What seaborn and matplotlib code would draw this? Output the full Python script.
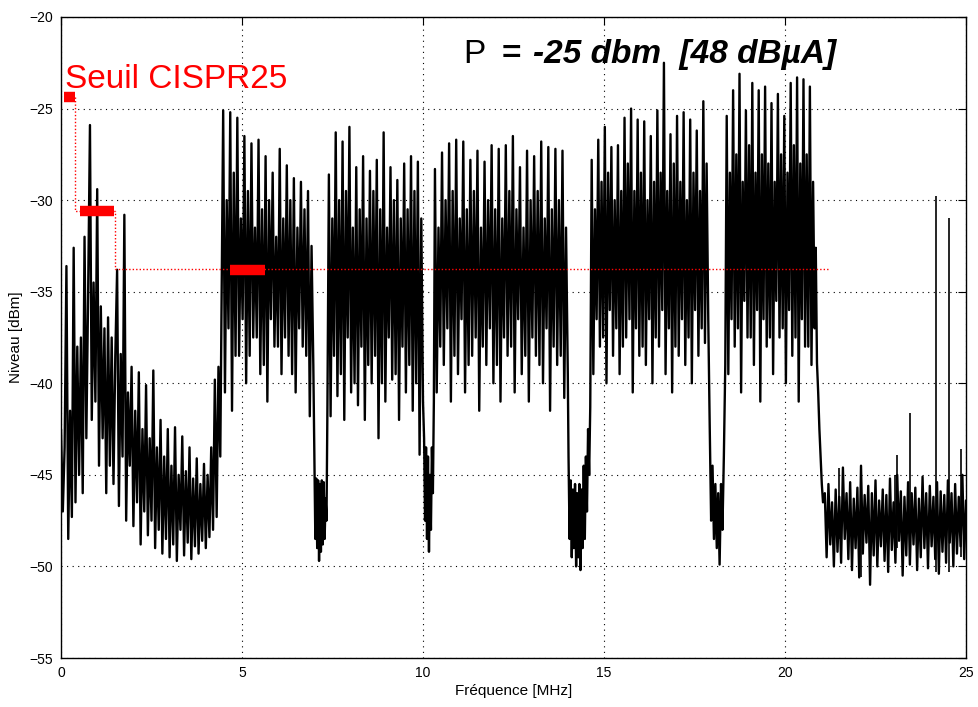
import numpy as np
import pandas as pd
import matplotlib
matplotlib.use("Agg")
import matplotlib.pyplot as plt
import seaborn as sns

# --- spectrum (levels in dBm) ---
# 0 - 4.4 MHz, low frequency part, alternating highs / lows
low_band = [-42.5, -47.0, -43.5, -33.6, -48.5, -41.5, -47.3, -32.6, -46.5, -38.0,
            -45.0, -37.5, -46.0, -32.0, -43.0, -35.0, -25.9, -42.0, -34.5, -41.0,
            -29.4, -44.5, -35.8, -43.0, -37.0, -46.0, -36.4, -44.5, -37.5, -45.5,
            -38.5, -33.8, -46.7, -38.4, -44.0, -30.8, -47.5, -40.5, -44.5, -39.1,
            -47.8, -41.5, -46.5, -39.4, -48.8, -42.5, -47.0, -40.1, -48.3, -43.0,
            -47.5, -39.3, -49.0, -43.5, -48.0, -42.0, -49.3, -44.0, -48.5, -42.5,
            -49.5, -44.5, -48.8, -42.4, -49.7, -45.0, -48.0, -42.9, -49.4, -44.8,
            -48.7, -43.5, -49.6, -45.2, -48.9, -44.1, -49.3, -45.5, -48.6, -44.4,
            -49.0, -45.0, -48.4, -43.5, -48.0, -39.8, -47.3, -39.1, -44.0]

# comb bands: main peak, low, secondary peak, low per cycle
peaks1 = [-25.1, -25.2, -25.5, -26.5, -26.9, -26.7, -27.6, -28.5, -27.2, -28.1, -28.8, -29.0, -29.5]
mids1 = [-30.0, -28.5, -31.0, -29.5, -31.5, -30.5, -30.0, -32.0, -31.0, -30.0, -31.5, -30.5, -32.5]
lowa1 = [-40.5, -41.5, -38.5, -40.0, -37.5, -39.5, -41.0, -38.0, -39.5, -38.5, -40.5, -38.0, -41.8]
lowb1 = [-37.0, -38.5, -36.5, -38.5, -37.5, -39.0, -36.5, -38.0, -37.5, -39.5, -37.0, -38.5, -39.0]

peaks2 = [-28.6, -26.3, -26.8, -26.0, -28.2, -27.6, -28.4, -27.8, -26.3, -28.2, -28.9, -28.0, -27.6, -27.9]
mids2 = [-31.0, -30.0, -29.5, -31.5, -30.5, -31.0, -29.5, -30.5, -31.5, -30.0, -31.0, -30.5, -29.5, -31.0]
lowa2 = [-41.8, -40.7, -42.0, -40.5, -41.2, -42.0, -40.0, -43.0, -41.0, -39.8, -42.0, -40.5, -41.5, -43.9]
lowb2 = [-38.5, -39.5, -37.5, -40.0, -38.0, -39.0, -38.5, -40.0, -37.5, -39.5, -38.0, -39.0, -40.0, -41.0]

peaks3 = [-28.3, -27.4, -26.9, -26.7, -26.8, -27.8, -27.3, -27.9, -27.0, -27.2,
          -27.0, -26.5, -28.2, -27.3, -27.6, -26.8, -27.1, -27.2, -27.3]
mids3 = [-31.5, -30.0, -29.5, -31.0, -30.5, -29.5, -31.5, -30.0, -30.5, -31.0,
         -29.5, -30.5, -31.5, -30.0, -29.5, -31.0, -30.5, -30.0, -31.5]
lowa3 = [-40.5, -39.0, -41.0, -39.5, -40.5, -38.5, -41.5, -39.0, -40.0, -41.0,
         -38.5, -40.5, -39.5, -41.0, -38.5, -40.0, -41.5, -39.0, -40.8]
lowb3 = [-38.0, -37.0, -38.5, -36.5, -39.0, -37.5, -38.0, -37.0, -39.0, -37.5,
         -38.0, -36.5, -38.5, -37.5, -39.0, -37.0, -38.0, -38.5, -39.5]

peaks4 = [-27.8, -26.7, -26.0, -27.1, -27.0, -25.5, -25.0, -25.6, -25.7, -26.5,
          -25.1, -22.5, -26.4, -25.4, -25.2, -25.6, -26.2, -24.6]
mids4 = [-30.5, -29.0, -28.5, -30.0, -29.5, -28.0, -29.5, -28.5, -30.0, -29.0,
         -28.5, -29.5, -28.0, -29.0, -30.0, -28.5, -29.5, -28.0]
lowa4 = [-39.5, -38.0, -40.0, -38.5, -39.5, -37.5, -40.5, -38.5, -39.0, -40.0,
         -38.0, -39.5, -40.5, -38.5, -39.0, -40.0, -38.5, -37.8]
lowb4 = [-36.5, -37.5, -36.0, -37.0, -38.0, -36.5, -37.0, -38.0, -36.5, -37.5,
         -36.0, -37.0, -38.0, -36.5, -37.5, -36.0, -37.0, -36.5]

peaks5 = [-25.4, -24.0, -23.1, -25.1, -23.6, -24.0, -23.8, -24.7, -24.2, -25.4, -23.6, -23.3, -23.4, -23.8]
mids5 = [-28.5, -27.5, -29.0, -27.0, -28.5, -27.5, -28.0, -29.0, -27.5, -28.5, -27.0, -28.0, -27.5, -29.0]
lowa5 = [-39.5, -38.0, -40.5, -37.5, -39.0, -41.0, -38.0, -39.5, -37.5, -40.0, -38.5, -41.0, -38.0, -39.0]
lowb5 = [-36.5, -37.0, -35.5, -37.5, -36.0, -36.5, -37.5, -35.5, -37.0, -36.0, -37.5, -36.5, -38.0, -37.0]

# notches between the bands
gap1 = [-44.0, -48.5, -45.2, -49.0, -45.3, -49.7, -45.5, -49.2, -45.3, -48.8, -45.4, -48.5, -46.3, -47.5, -41.2]
gap2 = [-43.0, -47.5, -43.5, -48.5, -44.0, -49.2, -45.0, -48.0, -43.5, -46.0, -41.0]
gap3 = [-44.0, -48.5, -45.3, -49.5, -45.8, -49.0, -45.5, -50.0, -46.0, -49.5, -45.5,
        -50.2, -45.8, -49.0, -44.5, -48.5, -44.0, -47.0, -42.5, -45.0, -41.3]
gap4 = [-42.3, -47.5, -44.5, -48.5, -45.5, -49.0, -46.0, -49.9, -45.5, -48.0, -44.0, -39.0]
drop = [-32.6, -38.9, -40.5, -42.5, -44.0, -45.5, -46.5]

# noise floor above 21 MHz
floor = [-46.0, -49.5, -45.5, -48.8, -46.5, -50.0, -45.8, -49.2, -46.2, -49.8,
         -44.6, -48.5, -46.0, -49.6, -45.4, -50.2, -46.3, -49.0, -45.7, -50.6,
         -44.5, -49.3, -46.1, -48.7, -45.6, -51.0, -46.0, -49.4, -45.3, -50.0,
         -46.4, -48.9, -45.8, -49.7, -46.1, -50.3, -45.2, -49.1, -46.5, -49.8,
         -45.0, -48.6, -45.9, -50.5, -46.2, -49.4, -45.4, -49.9, -46.0, -48.8,
         -45.7, -50.2, -46.3, -49.5, -45.1, -49.0, -46.0, -50.1, -45.6, -48.9,
         -46.2, -49.6, -45.4, -50.4, -45.9, -49.2, -46.1, -49.8, -45.3, -48.7,
         -46.0, -50.0, -45.5, -49.3, -46.2, -48.9, -45.0, -49.6, -46.4]

# isolated lines in the floor
spike_f = [21.5, 22.1, 23.05, 23.1, 23.45, 24.17, 24.53, 24.86]
spike_top = [-44.6, -44.5, -45.0, -43.9, -41.6, -29.8, -31.0, -43.6]
spike_bot = [-48.5, -50.6, -48.5, -49.0, -48.5, -50.3, -50.3, -49.5]

# CISPR25 limit (MHz start, MHz end, dBm)
lim_start = [0.07, 0.52, 4.67]
lim_end = [0.40, 1.46, 5.64]
lim_level = [-24.35, -30.6, -33.8]
lim_path_f = [0.39, 0.39, 1.49, 1.49, 21.2]
lim_path_db = [-24.35, -30.6, -30.6, -33.75, -33.75]


def comb(peaks, lowa, mids, lowb):
    return np.column_stack([peaks, lowa, mids, lowb]).ravel()


segments = [
    (0.0, 4.40, low_band),
    (4.48, 6.97, comb(peaks1, lowa1, mids1, lowb1)),
    (7.00, 7.36, gap1),
    (7.40, 10.00, comb(peaks2, lowa2, mids2, lowb2)),
    (10.03, 10.30, gap2),
    (10.33, 14.00, comb(peaks3, lowa3, mids3, lowb3)),
    (14.02, 14.62, gap3),
    (14.66, 17.88, comb(peaks4, lowa4, mids4, lowb4)),
    (17.92, 18.35, gap4),
    (18.39, 20.82, comb(peaks5, lowa5, mids5, lowb5)),
    (20.85, 21.05, drop),
    (21.10, 25.0, floor),
]
freq, level = [], []
for f0, f1, vals in segments:
    freq.append(np.linspace(f0, f1, len(vals)))
    level.append(np.asarray(vals, dtype=float))
df = pd.DataFrame({"f": np.concatenate(freq), "db": np.concatenate(level)})

sns.set_style("white")
plt.rcParams["font.family"] = ["Liberation Sans", "DejaVu Sans"]
plt.rcParams["text.color"] = "black"
plt.rcParams["axes.labelcolor"] = "black"

fig = plt.figure(figsize=(9.79, 7.07), dpi=100)
ax = fig.add_axes([61 / 979, 1 - 658 / 707, 905 / 979, 641 / 707])

sns.lineplot(data=df, x="f", y="db", estimator=None, sort=False,
             color="black", lw=1.7, ax=ax)
ax.vlines(spike_f, spike_bot, spike_top, color="black", lw=1.2)

# limit
ax.plot(lim_path_f, lim_path_db, color="red", lw=1.0, ls=(0, (1, 1.5)))
ax.hlines(lim_level, lim_start, lim_end, color="red", lw=7.5)

ax.set_xlim(0, 25)
ax.set_ylim(-55, -20)
ax.set_xticks(range(0, 26, 5))
ax.set_yticks(range(-55, -19, 5))
ax.grid(True, color="black", ls=(0, (1, 4)), lw=0.8)
ax.tick_params(direction="in", length=6, top=True, right=True,
               labelsize=10, pad=6, colors="black")
for s in ax.spines.values():
    s.set_color("black")
    s.set_linewidth(1.0)
    s.set_visible(True)

ax.set_xlabel("Fréquence [MHz]", fontsize=11, labelpad=3)
ax.set_ylabel("Niveau [dBm]", fontsize=11, labelpad=4)

ax.text(0.11, -23.86, "Seuil CISPR25", color="red", fontsize=24, va="baseline")
ax.text(11.1, -22.5, "P", fontsize=24, va="baseline")
ax.text(12.18, -22.5, "=", fontsize=24, va="baseline", fontweight="bold")
ax.text(13.04, -22.5, "-25 dbm  [48 dBµA]", fontsize=24, va="baseline",
        fontweight="bold", fontstyle="italic")

fig.savefig("out.png", dpi=100)
